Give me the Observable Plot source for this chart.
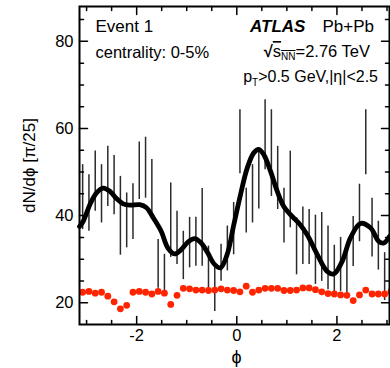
<!DOCTYPE html>
<html><head><meta charset="utf-8">
<script src="https://cdn.jsdelivr.net/npm/d3@7"></script>
<script src="https://cdn.jsdelivr.net/npm/@observablehq/plot@0.6"></script>
<style>
body{margin:0;background:#fff;}
#chart svg{display:block;}
</style></head><body><div id="chart"></div>
<script>
// ---- data ----
const nBins = 50;                       // bin width = pi/25
const errLo = [36.8, 36.4, 41.0, 38.3, 42.1, 40.2, 30.9, 32.6, 34.5, 43.7,
               44.0, 40.3, 23.3, 21.7, 30.4, 28.8, 25.3, 28.0, 28.4, 28.4,
               22.6, 18.0, 24.9, 27.3, 31.0, 49.6, 36.0, 38.3, 41.5, 50.5,
               44.4, 41.4, 33.7, 37.2, 26.4, 28.8, 28.8, 24.2, 24.9, 23.0,
               22.0, 22.6, 22.2, 28.3, 34.0, 49.4, 30.5, 27.5, 20.5, 25.0];
const errHi = [51.7, 49.4, 54.8, 51.7, 55.9, 53.8, 49.0, 45.2, 47.3, 56.9,
               58.0, 52.9, 34.5, 31.1, 47.5, 41.0, 36.4, 39.6, 39.6, 46.2,
               33.0, 29.1, 33.4, 37.6, 43.0, 64.3, 46.3, 51.7, 54.8, 66.6,
               64.3, 55.9, 46.3, 54.8, 39.5, 42.0, 41.4, 40.1, 40.7, 37.6,
               33.2, 35.0, 33.0, 39.8, 47.2, 64.3, 44.0, 38.7, 31.5, 38.0];
const redVals = [22.4, 22.6, 22.2, 22.4, 21.5, 20.2, 18.6, 19.4, 22.4, 22.6,
                 22.4, 22.0, 22.6, 22.2, 19.6, 21.7, 23.3, 23.2, 22.9, 22.9,
                 22.8, 22.9, 23.2, 22.9, 22.8, 22.5, 23.8, 22.4, 22.9, 23.3,
                 23.3, 23.3, 22.8, 22.8, 22.9, 23.4, 23.4, 23.0, 22.5, 22.1,
                 22.0, 21.8, 21.7, 20.5, 21.8, 22.9, 22.0, 22.0, 22.0, 22.6];
const curvePhi = [-3.141, -3.067, -2.935, -2.801, -2.668, -2.536, -2.402, -2.268, -2.137, -1.937,
                  -1.803, -1.669, -1.510, -1.378, -1.244, -1.110, -0.978, -0.845, -0.711, -0.579,
                  -0.445, -0.325, -0.192, -0.060, 0.074, 0.208, 0.339, 0.439, 0.539, 0.673,
                  0.807, 0.938, 1.072, 1.238, 1.406, 1.605, 1.805, 1.937, 2.105, 2.270,
                  2.470, 2.670, 2.835, 2.935, 3.049];
const curveVal = [37.5, 38.7, 42.5, 45.2, 46.3, 45.6, 43.9, 42.7, 42.4, 42.5,
                  41.8, 39.5, 36.4, 32.6, 31.2, 32.2, 33.9, 34.7, 33.7, 31.4,
                  28.8, 28.0, 31.1, 37.9, 44.8, 50.9, 54.4, 55.2, 54.0, 50.2,
                  45.6, 42.1, 40.2, 38.3, 35.6, 31.1, 27.2, 26.6, 29.5, 34.9,
                  38.2, 37.2, 34.1, 33.7, 35.2];
const xDomain = [-Math.PI, 3.05];
const yDomain = [15, 88];
const xMajor = [-2, 0, 2];
const xMinor = [-3, -2.5, -1.5, -1, -0.5, 0.5, 1, 1.5, 2.5, 3];
const yMajor = [20, 40, 60, 80];
const yMinor = [25, 30, 35, 45, 50, 55, 65, 70, 75, 85];

// ---- build tables ----
const binWidth = 2 * Math.PI / nBins;
const binCenter = i => -Math.PI + (i + 0.5) * binWidth;
const hist = errLo.map((lo, i) => ({phi: binCenter(i), lo, hi: errHi[i]}));
const red = redVals.map((v, i) => ({phi: binCenter(i), v}));
const fit = curvePhi.map((p, i) => ({phi: p, v: curveVal[i]}));

const tickShape = {draw(ctx, l) { ctx.moveTo(0, 0); ctx.lineTo(0, -l); }};
const FONT = "'Liberation Sans', Arial, Helvetica, sans-serif";
function ticks(vals, side, len) {
  const o = {length: len, anchor: "start", shape: tickShape, stroke: "black", strokeWidth: 1.5};
  if (side === "left")   return Plot.vector(vals, {...o, x: () => xDomain[0], y: d => d, rotate: 90});
  if (side === "right")  return Plot.vector(vals, {...o, x: () => xDomain[1], y: d => d, rotate: -90});
  if (side === "bottom") return Plot.vector(vals, {...o, y: () => yDomain[0], x: d => d, rotate: 0});
  return Plot.vector(vals, {...o, y: () => yDomain[1], x: d => d, rotate: 180});
}

const svg = Plot.plot({
  width: 390, height: 368,
  marginLeft: 79, marginRight: 1, marginTop: 6, marginBottom: 44,
  x: {domain: xDomain},
  y: {domain: yDomain},
  style: {fontFamily: FONT, fontSize: "16px", color: "black", background: "white", overflow: "visible"},
  marks: [
    Plot.ruleX(hist, {x: "phi", y1: "lo", y2: "hi", stroke: "#2b2b2b", strokeWidth: 1.5}),
    Plot.line(fit, {x: "phi", y: "v", curve: "catmull-rom", stroke: "black", strokeWidth: 4.8}),
    Plot.dot(red, {x: "phi", y: "v", r: 3.4, fill: "#ff2400", stroke: "none"}),
    Plot.frame({stroke: "black", strokeWidth: 2}),
    ticks(yMajor, "left", 8), ticks(yMinor, "left", 4),
    ticks(yMajor, "right", 8), ticks(yMinor, "right", 4),
    ticks(xMajor, "bottom", 8), ticks(xMinor, "bottom", 4),
    ticks(xMajor, "top", 8), ticks(xMinor, "top", 4),
    Plot.axisY({ticks: yMajor, tickSize: 0, tickPadding: 6, label: null, fontSize: 16.5}),
    Plot.axisX({ticks: xMajor, tickSize: 0, tickPadding: 5, label: null, fontSize: 16.5, tickFormat: d => String(d)}),
    Plot.text(["dN/d\u03D5 [\u03C0/25]"], {frameAnchor: "left", textAnchor: "middle", lineAnchor: "middle",
                                          dx: -50, rotate: -90, fontSize: 17}),
    Plot.text(["\u03D5"], {frameAnchor: "bottom", textAnchor: "middle", lineAnchor: "middle",
                           dx: 2, dy: 33, fontSize: 18})
  ]
});
document.getElementById("chart").appendChild(svg);

// ---- annotations ----
const ann = d3.select(svg).append("g").attr("font-family", FONT).attr("fill", "black")
  .attr("text-anchor", "start");
ann.append("text").attr("x", 95.5).attr("y", 32).attr("font-size", 17).attr("text-anchor", "start").text("Event 1");
ann.append("text").attr("x", 95.5).attr("y", 57.5).attr("font-size", 16.5).attr("text-anchor", "start").text("centrality: 0-5%");
ann.append("text").attr("x", 250).attr("y", 32).attr("font-size", 17).attr("text-anchor", "start")
   .attr("font-weight", "bold").attr("font-style", "italic").text("ATLAS");
ann.append("text").attr("x", 374).attr("y", 32).attr("text-anchor", "end").attr("font-size", 17).text("Pb+Pb");
const t2 = ann.append("text").attr("x", 370).attr("y", 57).attr("text-anchor", "end").attr("font-size", 16.5);
t2.append("tspan").attr("font-weight", "bold").text("\u221A");
const ov = t2.append("tspan").attr("text-decoration", "overline");
ov.append("tspan").text("s");
ov.append("tspan").attr("font-size", 10).attr("dy", 3).text("NN");
t2.append("tspan").attr("dy", -3).text("=2.76 TeV");
const t3 = ann.append("text").attr("x", 378).attr("y", 81.5).attr("text-anchor", "end").attr("font-size", 16);
t3.append("tspan").text("p");
t3.append("tspan").attr("font-size", 10).attr("dy", 4).text("T");
t3.append("tspan").attr("dy", -4).text(">0.5 GeV,|\u03B7|<2.5");
</script></body></html>
